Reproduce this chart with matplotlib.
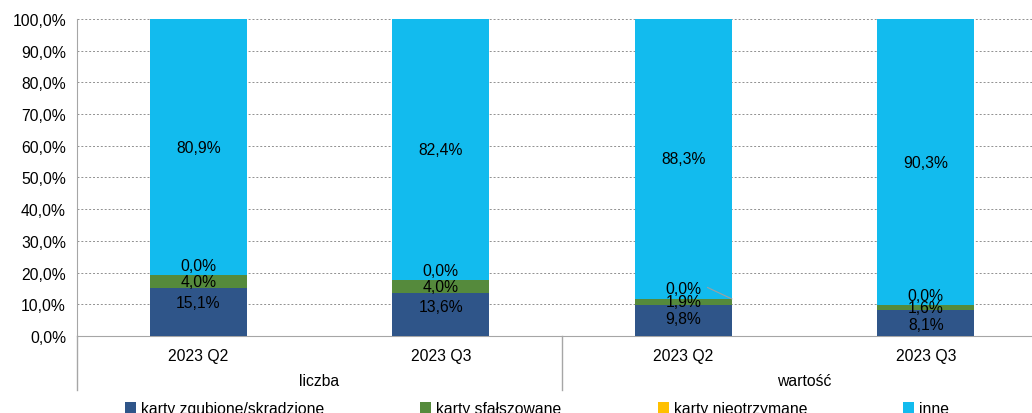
import matplotlib.pyplot as plt
from matplotlib.lines import Line2D
import numpy as np

plt.rcParams['font.family'] = ['Liberation Sans', 'DejaVu Sans']

categories = ['2023 Q2', '2023 Q3', '2023 Q2', '2023 Q3']
groups = ['liczba', 'wartość']
series = ['karty zgubione/skradzione', 'karty sfałszowane', 'karty nieotrzymane', 'inne']
zgubione = [15.1, 13.6, 9.8, 8.1]
sfalszowane = [4.0, 4.0, 1.9, 1.6]
nieotrzymane = [0.0, 0.0, 0.0, 0.0]
inne = [80.9, 82.4, 88.3, 90.3]
colors = ['#2f5589', '#558a3c', '#ffc000', '#12bbee']

FS = 11.3

def fmt(v):
    return f'{v:.1f}%'.replace('.', ',')

fig = plt.figure(figsize=(10.32, 4.14), dpi=100)
ax = fig.add_axes([0.0746, 0.186, 0.94, 0.7657])

x = np.arange(len(categories))
w = 0.4
data = [zgubione, sfalszowane, nieotrzymane, inne]
bottom = np.zeros(len(categories))
bars = []
for vals, col, name in zip(data, colors, series):
    b = ax.bar(x, vals, w, bottom=bottom, color=col, label=name, zorder=3)
    bars.append(b)
    bottom += np.array(vals)

# data labels
for i in range(len(categories)):
    z, s, n, o = zgubione[i], sfalszowane[i], nieotrzymane[i], inne[i]
    ax.text(x[i], z - 4.4, fmt(z), ha='center', va='center', fontsize=FS, zorder=5)
    ax.text(x[i], z + s / 2, fmt(s), ha='center', va='center', fontsize=FS, zorder=5)
    top = z + s + n
    ax.text(x[i], top + o / 2, fmt(o), ha='center', va='center', fontsize=FS, zorder=5)
    if i == 2:
        ax.text(x[i], top + 3.4, fmt(n), ha='center', va='center', fontsize=FS, zorder=5)
        # leader line from the zero label to the bar edge
        ax.add_line(Line2D([x[i] + 0.1, x[i] + w / 2], [top + 3.6, top], color='#a0a0a0',
                           lw=0.8, zorder=4))
    else:
        ax.text(x[i], top + 3.2, fmt(n), ha='center', va='center', fontsize=FS, zorder=5)

ax.set_xlim(-0.5, 3.5)
ax.set_ylim(0, 100)
ax.set_yticks(np.arange(0, 101, 10))
ax.set_yticklabels([fmt(v) for v in np.arange(0, 101, 10)], fontsize=FS)
ax.set_xticks(x)
ax.set_xticklabels(categories, fontsize=FS)
ax.tick_params(axis='both', length=0, pad=8)
ax.tick_params(axis='x', pad=9)
ax.yaxis.grid(True, color='#909090', linestyle=(0, (2, 2)), linewidth=0.7, zorder=0)
for sp in ['top', 'right']:
    ax.spines[sp].set_visible(False)
ax.spines['left'].set_color('#a6a6a6')
ax.spines['bottom'].set_color('#a6a6a6')

# group separators and labels below the axis
for xs in [-0.5, 1.5, 3.5]:
    ax.add_line(Line2D([xs, xs], [0, -17], color='#a6a6a6', lw=1, clip_on=False,
                       transform=ax.transData))
for gi, g in enumerate(groups):
    ax.text(gi * 2 + 0.5, -14, g, ha='center', va='center', fontsize=FS, clip_on=False)

# legend entries placed individually
leg_x = [0.121, 0.407, 0.638, 0.875]
for b, name, lx in zip(bars, series, leg_x):
    fig.legend([b], [name], loc='center left', bbox_to_anchor=(lx, 0.012),
               frameon=False, fontsize=FS, handlelength=0.7, handleheight=0.7,
               handletextpad=0.3, borderaxespad=0, borderpad=0)

fig.savefig('out.png', dpi=100)
